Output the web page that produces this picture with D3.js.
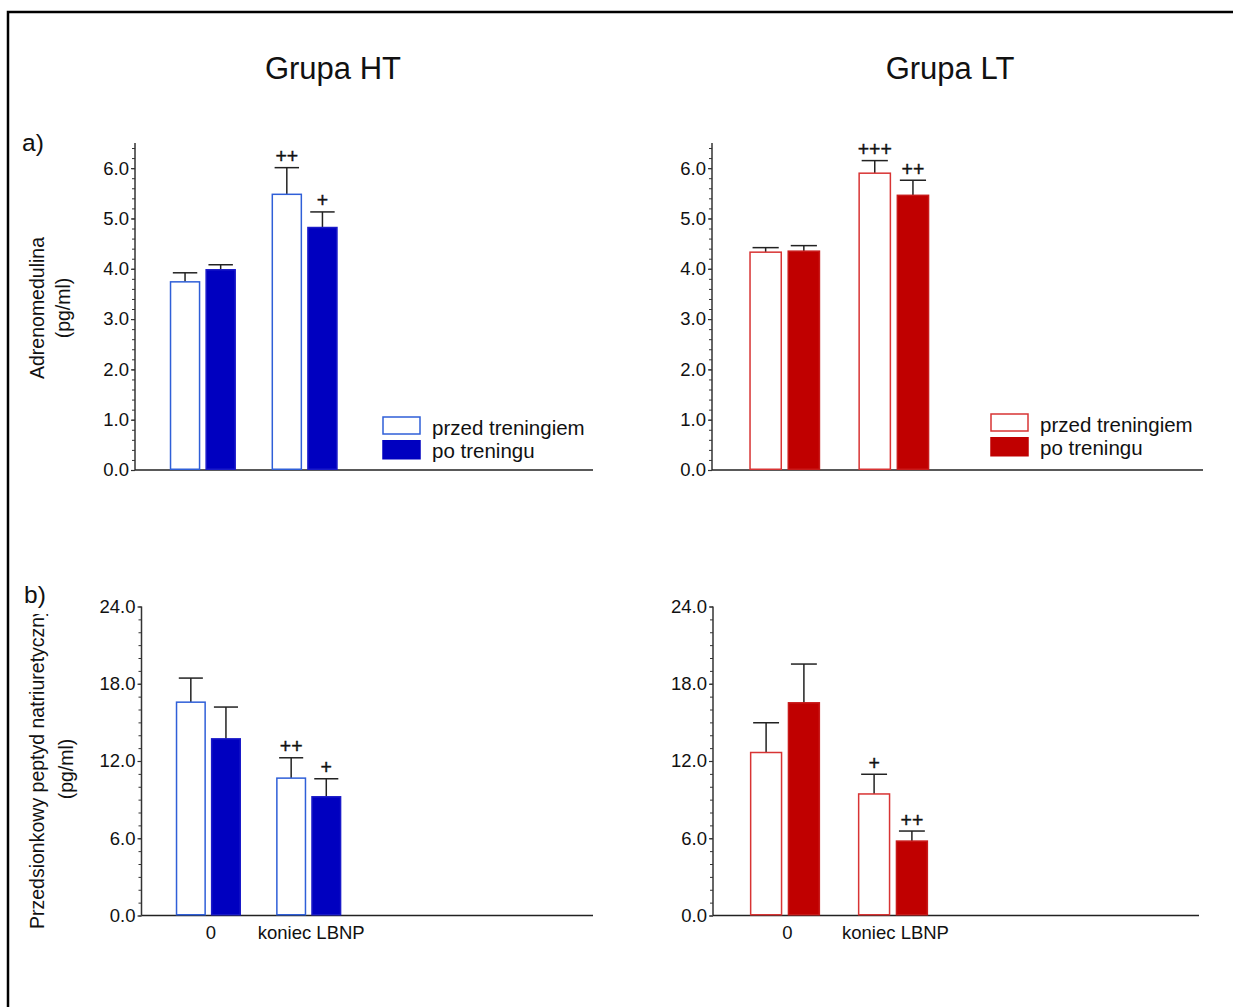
<!DOCTYPE html>
<html>
<head>
<meta charset="utf-8">
<script src="https://cdn.jsdelivr.net/npm/d3@7"></script>
<style>
  html, body { margin: 0; padding: 0; background: #fff; }
  svg { display: block; font-family: "Liberation Sans", Arial, sans-serif; }
</style>
</head>
<body>
<svg id="chart" width="1233" height="1007"></svg>
<script>
// Categories (measurement moments) and series (before / after training)
const categories = ["0", "koniec LBNP"];
const seriesNames = ["przed treningiem", "po treningu"];

// Adrenomedulina (pg/ml) — means and SE
const admHTBefore = [3.74, 5.48];
const admHTBeforeErr = [0.18, 0.53];
const admHTAfter = [3.98, 4.82];
const admHTAfterErr = [0.10, 0.31];
const admLTBefore = [4.33, 5.90];
const admLTBeforeErr = [0.09, 0.25];
const admLTAfter = [4.35, 5.46];
const admLTAfterErr = [0.11, 0.30];

// Przedsionkowy peptyd natriuretyczny (pg/ml) — means and SE
const anpHTBefore = [16.57, 10.67];
const anpHTBeforeErr = [1.87, 1.58];
const anpHTAfter = [13.72, 9.22];
const anpHTAfterErr = [2.47, 1.40];
const anpLTBefore = [12.66, 9.44];
const anpLTBeforeErr = [2.31, 1.53];
const anpLTAfter = [16.52, 5.78];
const anpLTAfterErr = [3.01, 0.78];

// Significance marks
const admHTBeforeSig = ["", "++"];
const admHTAfterSig = ["", "+"];
const admLTBeforeSig = ["", "+++"];
const admLTAfterSig = ["", "++"];
const anpHTBeforeSig = ["", "++"];
const anpHTAfterSig = ["", "+"];
const anpLTBeforeSig = ["", "+"];
const anpLTAfterSig = ["", "++"];

// Axis tick values
const admTicks = [0, 1, 2, 3, 4, 5, 6];
const anpTicks = [0, 6, 12, 18, 24];

const svg = d3.select("#chart");

// Outer frame
svg.append("rect")
  .attr("x", 8).attr("y", 12).attr("width", 1300).attr("height", 1100)
  .attr("fill", "none").attr("stroke", "#000").attr("stroke-width", 2.5);

const palette = {
  blue: { fill: "#0000c0", edge: "#2f5fd8", solidEdge: "#1a1ac8" },
  red:  { fill: "#c00000", edge: "#d83434", solidEdge: "#c81a1a" }
};

function panel(cfg) {
  const g = svg.append("g");
  const x = d3.scaleLinear().domain([1 / 3, 4.8333]).range([cfg.x0, cfg.x1]);
  const y = d3.scaleLinear().domain([0, cfg.yMax]).range([cfg.yBase, cfg.yTop]);
  const bw = x(1.3) - x(1);
  const capHalf = x(1.12) - x(1);
  const col = palette[cfg.color];

  // minor ticks
  const minorAxis = d3.axisLeft(y)
    .tickValues(d3.range(0, cfg.yMax + 1e-9, cfg.minorStep))
    .tickSize(3).tickSizeOuter(0).tickFormat("");
  const mg = g.append("g").attr("transform", `translate(${cfg.x0},0)`).call(minorAxis);
  mg.select(".domain").remove();
  mg.selectAll(".tick line").attr("stroke", "#333").attr("stroke-width", 1);

  // major axis with labels
  const majorAxis = d3.axisLeft(y)
    .tickValues(cfg.ticks).tickSize(4).tickSizeOuter(0).tickPadding(2)
    .tickFormat(d3.format(".1f"));
  const ag = g.append("g").attr("transform", `translate(${cfg.x0},0)`).call(majorAxis);
  ag.select(".domain").attr("stroke", "#333").attr("stroke-width", 1.5)
    .attr("d", `M0,${cfg.yTop}V${cfg.yBase}`);
  ag.selectAll(".tick line").attr("stroke", "#333").attr("stroke-width", 1.2);
  ag.selectAll(".tick text").attr("font-size", 18.5).attr("fill", "#111")
    .attr("font-family", "Liberation Sans, Arial, sans-serif");

  // baseline
  g.append("line")
    .attr("x1", cfg.x0).attr("x2", cfg.x1)
    .attr("y1", y(0)).attr("y2", y(0))
    .attr("stroke", "#222").attr("stroke-width", 1.5);

  const sets = [
    { vals: cfg.before, err: cfg.beforeErr, sig: cfg.beforeSig, off: -0.175, open: true },
    { vals: cfg.after, err: cfg.afterErr, sig: cfg.afterSig, off: 0.175, open: false }
  ];

  sets.forEach(s => {
    categories.forEach((c, i) => {
      const cx = x(i + 1 + s.off);
      const top = y(s.vals[i]);
      const errTop = y(s.vals[i] + s.err[i]);
      // error bar
      g.append("line").attr("x1", cx).attr("x2", cx)
        .attr("y1", top).attr("y2", errTop)
        .attr("stroke", "#222").attr("stroke-width", 1.5);
      g.append("line").attr("x1", cx - capHalf).attr("x2", cx + capHalf)
        .attr("y1", errTop).attr("y2", errTop)
        .attr("stroke", "#222").attr("stroke-width", 1.5);
      // bar
      g.append("rect")
        .attr("x", cx - bw / 2 + 0.75).attr("width", bw - 1.5)
        .attr("y", top).attr("height", y(0) - top - 0.75)
        .attr("fill", s.open ? "#fff" : col.fill)
        .attr("stroke", s.open ? col.edge : col.solidEdge)
        .attr("stroke-width", 1.5);
      // significance mark
      if (s.sig[i]) {
        g.append("text").attr("x", cx).attr("y", errTop - 4.5)
          .attr("text-anchor", "middle").attr("font-size", 19.5)
          .attr("fill", "#111").attr("stroke", "#111").attr("stroke-width", 0.4)
          .text(s.sig[i]);
      }
    });
  });

  if (cfg.xLabels) {
    categories.forEach((c, i) => {
      g.append("text").attr("x", x(i + 1) + 2.5).attr("y", 939)
        .attr("text-anchor", "middle").attr("font-size", 18.5)
        .attr("fill", "#111").text(c);
    });
  }

  if (cfg.legend) {
    const L = cfg.legend;
    g.append("rect").attr("x", L.x).attr("y", L.y).attr("width", 37).attr("height", 17)
      .attr("fill", "#fff").attr("stroke", col.edge).attr("stroke-width", 1.5);
    g.append("rect").attr("x", L.x - 0.75).attr("y", L.y + 23).attr("width", 38.5).attr("height", 19.5)
      .attr("fill", col.fill);
    seriesNames.forEach((n, k) => {
      g.append("text").attr("x", L.x + 49).attr("y", L.y + 18 + k * 23)
        .attr("font-size", 20.5).attr("fill", "#111").text(n);
    });
  }
}

panel({ x0: 135, x1: 593, yBase: 470, yTop: 143, yMax: 6.5, minorStep: 0.2, ticks: admTicks,
  color: "blue", before: admHTBefore, beforeErr: admHTBeforeErr, after: admHTAfter, afterErr: admHTAfterErr,
  beforeSig: admHTBeforeSig, afterSig: admHTAfterSig, legend: { x: 383, y: 417 } });
panel({ x0: 712, x1: 1203, yBase: 470, yTop: 143, yMax: 6.5, minorStep: 0.2, ticks: admTicks,
  color: "red", before: admLTBefore, beforeErr: admLTBeforeErr, after: admLTAfter, afterErr: admLTAfterErr,
  beforeSig: admLTBeforeSig, afterSig: admLTAfterSig, legend: { x: 991, y: 414 } });
panel({ x0: 141.5, x1: 593, yBase: 915.5, yTop: 606.5, yMax: 24, minorStep: 1, ticks: anpTicks,
  color: "blue", before: anpHTBefore, beforeErr: anpHTBeforeErr, after: anpHTAfter, afterErr: anpHTAfterErr,
  beforeSig: anpHTBeforeSig, afterSig: anpHTAfterSig, xLabels: true });
panel({ x0: 713, x1: 1199, yBase: 915.5, yTop: 606.5, yMax: 24, minorStep: 1, ticks: anpTicks,
  color: "red", before: anpLTBefore, beforeErr: anpLTBeforeErr, after: anpLTAfter, afterErr: anpLTAfterErr,
  beforeSig: anpLTBeforeSig, afterSig: anpLTAfterSig, xLabels: true });

// Group titles
svg.append("text").attr("x", 333).attr("y", 79).attr("text-anchor", "middle")
  .attr("font-size", 31).attr("fill", "#111").text("Grupa HT");
svg.append("text").attr("x", 950).attr("y", 79).attr("text-anchor", "middle")
  .attr("font-size", 31).attr("fill", "#111").text("Grupa LT");

// Row letters
svg.append("text").attr("x", 22).attr("y", 151).attr("font-size", 24.5).attr("fill", "#111").text("a)");
svg.append("text").attr("x", 24).attr("y", 603).attr("font-size", 24.5).attr("fill", "#111").text("b)");

// Y axis titles
function vText(x, y, txt, anchor) {
  return svg.append("text")
    .attr("transform", `translate(${x},${y}) rotate(-90)`)
    .attr("text-anchor", anchor).attr("font-size", 19.5).attr("fill", "#111").text(txt);
}
svg.append("clipPath").attr("id", "ylabClip")
  .append("rect").attr("x", 0).attr("y", 614).attr("width", 100).attr("height", 400);

vText(44, 308, "Adrenomedulina", "middle");
vText(70, 308, "(pg/ml)", "middle");
svg.append("g").attr("clip-path", "url(#ylabClip)")
  .append("text")
  .attr("transform", "translate(44,929) rotate(-90)")
  .attr("font-size", 19.5).attr("fill", "#111").text("Przedsionkowy peptyd natriuretyczny");
vText(73, 769, "(pg/ml)", "middle");
</script>
</body>
</html>
